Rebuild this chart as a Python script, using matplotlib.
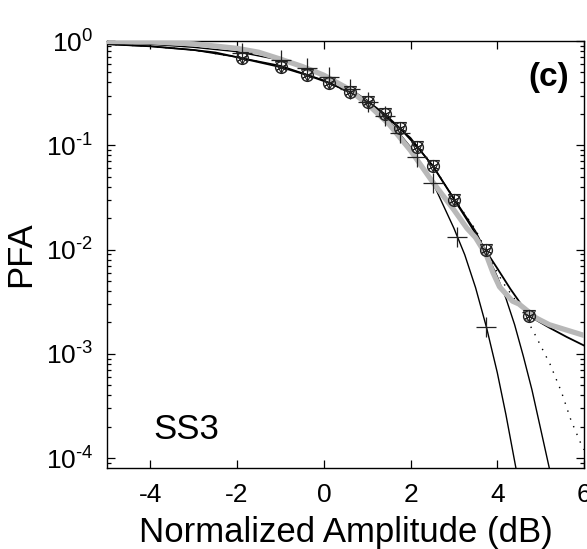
import matplotlib
matplotlib.use("Agg")
import matplotlib.pyplot as plt
from matplotlib.ticker import LogLocator, NullFormatter, FixedLocator

plt.rcParams['font.family'] = ['Liberation Sans', 'DejaVu Sans']
plt.rcParams['mathtext.fontset'] = 'custom'
plt.rcParams['mathtext.rm'] = 'Liberation Sans'
plt.rcParams['mathtext.it'] = 'Liberation Sans:italic'
plt.rcParams['mathtext.bf'] = 'Liberation Sans:bold'

# gray measured data
data_x = [-5, -4, -3, -2, -1.5, -1, -0.5, 0, 0.5, 1, 1.5, 2, 2.5, 3, 3.3, 3.5, 3.75, 3.9,
          4.05, 4.35, 4.5, 4.9, 5.2, 6]
data_y = [0.99, 0.98, 0.94, 0.85, 0.78, 0.67, 0.57, 0.47, 0.36, 0.25, 0.16, 0.089, 0.045,
          0.024, 0.016, 0.013, 0.0088, 0.006, 0.0044, 0.0032, 0.003, 0.0022, 0.0019, 0.0015]

# heavy-tailed model (solid)
a_x = [-5, -4, -3, -2.5, -2, -1.88, -0.98, -0.38, 0.13, 0.6, 1.03, 1.4, 1.76, 2.15, 2.52,
       3.01, 3.4, 3.73, 4.0, 4.3, 4.74, 5.2, 5.6, 6.0]
a_y = [0.933, 0.89, 0.82, 0.776, 0.70, 0.68, 0.56, 0.47, 0.395, 0.325, 0.26, 0.20, 0.145,
       0.097, 0.063, 0.030, 0.0166, 0.0098, 0.0066, 0.0042, 0.0023, 0.00178, 0.00145, 0.0012]

# Rayleigh-like model (solid, + markers)
b_x = [-5, -4, -3, -2, -1, 0, 0.5, 1, 1.5, 2, 2.5, 3, 3.25, 3.5, 3.75, 4, 4.2, 4.43]
b_y = [0.96, 0.93, 0.87, 0.79, 0.655, 0.47, 0.37, 0.27, 0.172, 0.096, 0.045, 0.016, 0.0089,
       0.0043, 0.0018, 6.6e-4, 2.6e-4, 8.0e-5]

# second model (solid, ends near 5.2 dB)
c_x = [-5, -4, -3, -2, -1, 0, 1, 2, 2.5, 3, 3.5, 3.73, 4.0, 4.2, 4.4, 4.6, 4.8, 5.0, 5.2]
c_y = [0.93, 0.89, 0.82, 0.70, 0.58, 0.42, 0.265, 0.118, 0.064, 0.031, 0.0150, 0.0096,
       0.0055, 0.0034, 0.0019, 9.5e-4, 4.5e-4, 1.9e-4, 8e-5]

# third model (dotted)
d_x = [-5, -4, -3, -2, -1, 0, 1, 2, 2.5, 3, 3.5, 3.73, 4.0, 4.15, 4.53, 4.88, 5.22, 5.48,
       5.70, 5.92, 6.0]
d_y = [0.93, 0.89, 0.82, 0.70, 0.57, 0.42, 0.265, 0.115, 0.065, 0.031, 0.0155, 0.0100,
       0.0060, 0.0047, 0.0028, 0.0015, 7.9e-4, 4.3e-4, 2.3e-4, 1.4e-4, 1.2e-4]

# marker positions
mk_x = [-1.88, -0.98, -0.38, 0.13, 0.6, 1.03, 1.4, 1.76, 2.15, 2.52, 3.01, 3.73, 4.74]
mk_y = [0.68, 0.56, 0.47, 0.395, 0.325, 0.26, 0.20, 0.145, 0.097, 0.063, 0.030, 0.0098, 0.0023]
plus_x = [-1.88, -0.98, -0.38, 0.13, 0.6, 1.03, 1.4, 1.76, 2.15, 2.52, 3.08, 3.74]
plus_y = [0.774, 0.652, 0.548, 0.447, 0.349, 0.260, 0.190, 0.130, 0.078, 0.043, 0.0132, 0.0018]

xticks = [-4, -2, 0, 2, 4, 6]
ytick_pows = [-4, -3, -2, -1, 0]

fig = plt.figure(figsize=(5.87, 5.49), dpi=100)
ax = fig.add_axes([0.1823, 0.1475, 0.8126, 0.7778])

ax.plot(a_x, a_y, color='black', lw=1.3, zorder=2)
ax.plot(b_x, b_y, color='black', lw=1.0, zorder=2)
ax.plot(c_x, c_y, color='black', lw=1.0, zorder=2)
ax.plot(d_x, d_y, color='black', lw=1.0, linestyle=(0, (1, 5)), zorder=2)
ax.plot(data_x, data_y, color='#b8b8b8', lw=3.8, solid_joinstyle='round', zorder=3)

ax.plot(mk_x, mk_y, linestyle='none', marker='o', ms=8.5, mfc='none', mec='#222222', mew=1.0, zorder=4)
ax.plot(mk_x, mk_y, linestyle='none', marker='v', ms=8.5, mfc='none', mec='#222222', mew=0.8, zorder=4)
ax.plot(mk_x, mk_y, linestyle='none', marker=(6, 2, 0), ms=8.5, mfc='none', mec='#222222', mew=0.7, zorder=4)
ax.plot(plus_x, plus_y, linestyle='none', marker='+', ms=14, mec='#222222', mew=0.9, zorder=4)

ax.set_yscale('log')
ax.set_xlim(-5, 6)
ax.set_ylim(10 ** -4.096, 1)
ax.xaxis.set_major_locator(FixedLocator(xticks))
ax.set_xticklabels([str(t) for t in xticks])
ax.yaxis.set_major_locator(FixedLocator([10.0 ** p for p in ytick_pows]))
ax.yaxis.set_minor_locator(LogLocator(base=10, subs=range(2, 10), numticks=20))
ax.yaxis.set_minor_formatter(NullFormatter())
ylabels = []
for p in ytick_pows:
    if p < 0:
        ylabels.append(r'$\mathregular{10^{\text{-}%d}}$' % (-p))
    else:
        ylabels.append(r'$\mathregular{10^{%d}}$' % p)
ax.set_yticklabels(ylabels)

ax.tick_params(which='both', direction='in', top=True, right=True, width=0.9)
ax.tick_params(which='major', length=6, labelsize=19)
ax.tick_params(axis='x', which='major', pad=11)
ax.tick_params(axis='y', which='major', pad=10)
ax.tick_params(which='minor', length=3)
for s in ax.spines.values():
    s.set_linewidth(1.0)

ax.set_xlabel('Normalized Amplitude (dB)', fontsize=25, labelpad=6)
ax.set_ylabel('PFA', fontsize=25, labelpad=6)

ax.text(0.925, 0.914, '(c)', transform=ax.transAxes, fontsize=24, fontweight='bold',
        ha='center', va='center')
ax.text(0.166, 0.091, 'SS3', transform=ax.transAxes, fontsize=25, ha='center', va='center')

fig.savefig('out.png', dpi=100)
